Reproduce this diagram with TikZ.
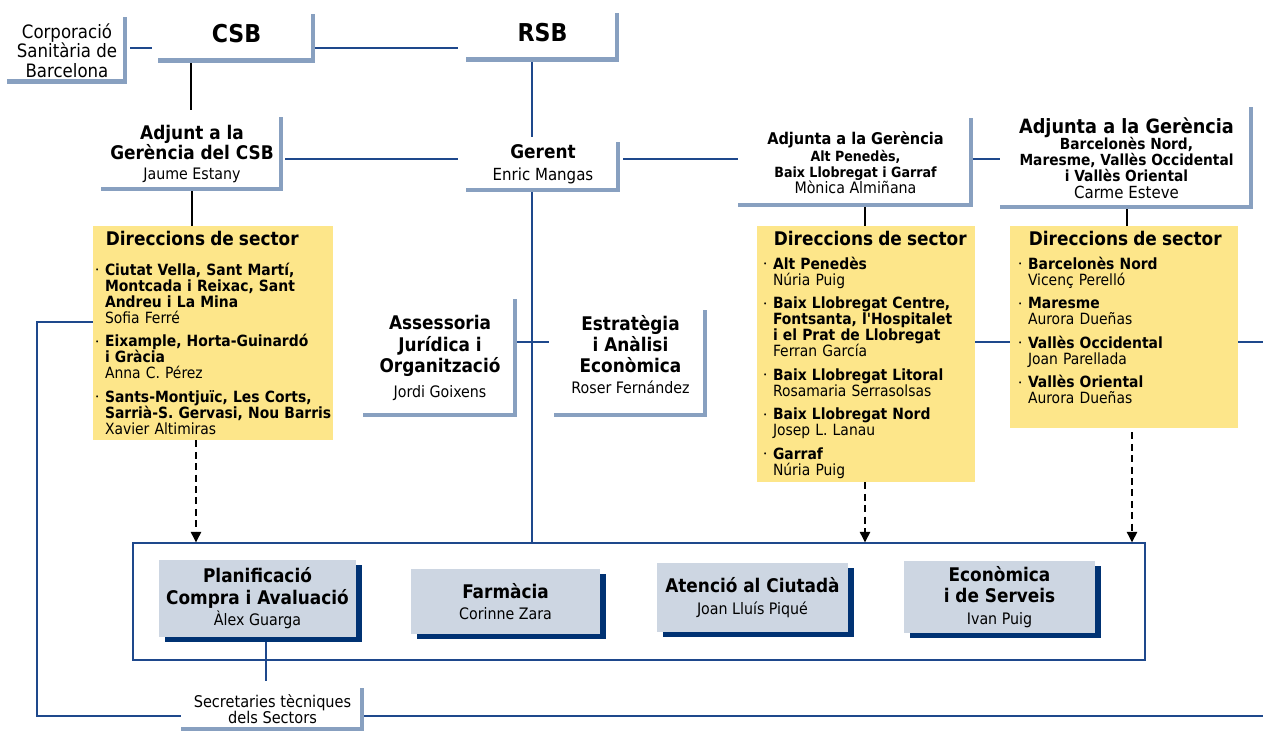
\documentclass[tikz,border=0pt]{standalone}
\usepackage{fontspec}
\setmainfont{DejaVu Sans Condensed}
\usepackage{xcolor}
\usetikzlibrary{backgrounds,shadows,arrows.meta}

\definecolor{barblue}{RGB}{136,160,192}
\definecolor{lineblue}{RGB}{30,72,140}
\definecolor{secyellow}{RGB}{253,230,138}
\definecolor{unitgray}{RGB}{205,214,226}
\definecolor{unitnavy}{RGB}{0,50,115}

\newcommand{\bighead}{\fontsize{14}{16}\selectfont\bfseries}
\newcommand{\boxhead}{\fontsize{10.7}{11.5}\selectfont\bfseries}
\newcommand{\smallhead}{\fontsize{8}{9}\selectfont\bfseries}
\newcommand{\persona}[1]{{\fontsize{9}{10}\selectfont\mdseries #1}}
\newcommand{\sechead}[1]{\noindent\hspace*{6pt}{\fontsize{10.7}{12}\selectfont\bfseries #1}\par}
\newcommand{\sitem}[2]{\vspace{4.3pt}\noindent\hangindent=5.5pt\hangafter=1\makebox[5.5pt][l]{\raisebox{1.5pt}{\fontsize{4}{4}\selectfont\textbullet}}{\bfseries #1}\newline #2\par}

\tikzset{lbox/.style 2 args={fill=white,inner sep=0pt,align=center,
            minimum width=#1*0.02cm,minimum height=#2*0.02cm,
            path picture={\fill[barblue] ([xshift=-0.09cm]path picture bounding box.north east) rectangle (path picture bounding box.south east);
                          \fill[barblue] ([yshift=0.09cm]path picture bounding box.south west) rectangle (path picture bounding box.south east);}},
         secbox/.style 2 args={fill=secyellow,inner sep=0pt,minimum width=#1*0.02cm,minimum height=#2*0.02cm},
         sectext/.style={anchor=north west,inner sep=0pt,align=left,font=\fontsize{8.8}{9.1}\selectfont},
         unit/.style 2 args={fill=unitgray,inner sep=0pt,align=center,font=\fontsize{10.7}{12.2}\selectfont\bfseries,
            minimum width=#1*0.02cm,minimum height=#2*0.02cm,
            drop shadow={shadow xshift=0.12cm,shadow yshift=-0.1cm,fill=unitnavy,opacity=1}},
         conn/.style={draw=lineblue,line width=0.8pt},
         vconn/.style={draw=black,line width=0.8pt},
         dasharrow/.style={draw=black,line width=0.7pt,dash pattern=on 4pt off 2.5pt,-{Triangle[length=6pt,width=6pt]}},
            }

\begin{document}
\begin{tikzpicture}[x=0.02cm,y=-0.02cm]
				\useasboundingbox (0,0) rectangle (1263,733);
				% top level
				\node[lbox={120}{67},font=\fontsize{10.5}{11}\selectfont] (corp) at (67,50.5) {Corporació\\Sanitària de\\Barcelona};
				\node[lbox={157}{49},font=\bighead,text depth=5.7pt] (csb) at (236.5,38.5) {CSB};
				\node[lbox={153}{49},font=\bighead,text depth=5.7pt] (rsb) at (542.5,37.5) {RSB};
				
				\node[lbox={182}{74},font=\boxhead] (adjcsb) at (192,154) {Adjunt a la\\Gerència del CSB\\\persona{Jaume Estany}};
				\node[lbox={154}{50},font=\boxhead] (gerent) at (543,167) {Gerent\\[1pt]{\fontsize{9.5}{11}\selectfont\mdseries Enric Mangas}\\[-6pt]\mbox{}};
				\node[lbox={235}{89},font=\boxhead] (adj1) at (855.5,162.5) {{\fontsize{9.2}{11}\selectfont Adjunta a la Gerència}\\[-1.5pt]{\smallhead Alt Penedès,}\\[-2.5pt]{\smallhead Baix Llobregat i Garraf}\\[-2.5pt]\persona{Mònica Almiñana}};
				\node[lbox={253}{102},font=\boxhead] (adj2) at (1126.5,158) {{\fontsize{11.2}{12}\selectfont Adjunta a la Gerència}\\[-2pt]{\fontsize{8.7}{9}\selectfont Barcelonès Nord,}\\[-2.5pt]{\fontsize{8.7}{9}\selectfont Maresme, Vallès Occidental}\\[-2.5pt]{\fontsize{8.7}{9}\selectfont i Vallès Oriental}\\[-2pt]{\fontsize{9.5}{10}\selectfont\mdseries Carme Esteve}};
				
				\node[lbox={154}{118},font=\boxhead] (assess) at (440,358) {Assessoria\\[0.7pt]Jurídica i\\[0.5pt]Organització\\[3pt]\persona{Jordi Goixens}};
				\node[lbox={153}{107},font=\boxhead] (estrat) at (630.5,363.5) {Estratègia\\[0.5pt]i Anàlisi\\[0.5pt]Econòmica\\[0.5pt]\persona{Roser Fernández}\\[-1pt]\mbox{}};
				
				% sector boxes
				\node[secbox={240}{214}] (ysec1) at (213,333) {};
				\node[secbox={218}{256}] (ysec2) at (866,354) {};
				\node[secbox={228}{202}] (ysec3) at (1124,327) {};
				
				\node[sectext,text width=4.8cm] (ysec1txt) at (95,231) {\sechead{Direccions de sector}\vspace{3.4pt}
					\sitem{Ciutat Vella, Sant Martí,\newline Montcada i Reixac, Sant\newline Andreu i La Mina}{Sofia Ferré}
					\sitem{Eixample, Horta-Guinardó\newline i Gràcia}{Anna C. Pérez}
					\sitem{Sants-Montjuïc, Les Corts,\newline Sarrià-S. Gervasi, Nou Barris}{Xavier Altimiras}};
				\node[sectext,text width=4.4cm] (ysec2txt) at (763,231) {\sechead{Direccions de sector}
					\sitem{Alt Penedès}{Núria Puig}
					\sitem{Baix Llobregat Centre,\newline Fontsanta, l\textquotesingle Hospitalet\newline i el Prat de Llobregat}{Ferran García}
					\sitem{Baix Llobregat Litoral}{Rosamaria Serrasolsas}
					\sitem{Baix Llobregat Nord}{Josep L. Lanau}
					\sitem{Garraf}{Núria Puig}};
				\node[sectext,text width=4.4cm] (ysec3txt) at (1018,231) {\sechead{Direccions de sector}
					\sitem{Barcelonès Nord}{Vicenç Perelló}
					\sitem{Maresme}{Aurora Dueñas}
					\sitem{Vallès Occidental}{Joan Parellada}
					\sitem{Vallès Oriental}{Aurora Dueñas}};
				
				% bottom frame and units
				\node[draw=lineblue,line width=0.8pt,inner sep=0pt,minimum width=1012*0.02cm,minimum height=117*0.02cm] (frame) at (639,601.5) {};
				\node[unit={197}{77}] (plan) at (257.5,598.5) {Planificació\\Compra i Avaluació\\\persona{Àlex Guarga}};
				\node[unit={189}{65}] (farm) at (505.5,601.5) {Farmàcia\\\persona{Corinne Zara}};
				\node[unit={191}{69}] (aten) at (752.5,597.5) {Atenció al Ciutadà\\\persona{Joan Lluís Piqué}};
				\node[unit={191}{72}] (econ) at (999.5,597) {Econòmica\\i de Serveis\\\persona{Ivan Puig}};
				
				\node[lbox={183}{43},font=\fontsize{9.2}{9.2}\selectfont] (secret) at (272.5,709.5) {Secretaries tècniques\\dels Sectors};
				
				\coordinate (lcorner1) at (37,322);
				\coordinate (lcorner2) at (37,716);
				\coordinate (redge1) at (1263,342);
				\coordinate (redge2) at (1263,716);
				
				\begin{scope}[on background layer]
				\draw[conn,shorten <=0.06cm,shorten >=0.12cm] (corp.east |- 0,48) -- (csb.west |- 0,48);
				\draw[conn,shorten >=0.16cm] (csb.east |- 0,48) -- (rsb.west |- 0,48);
				\draw[vconn,shorten >=0.14cm] (csb.south -| 191,0) -- (adjcsb.north -| 191,0);
				\draw[conn,shorten >=0.1cm] (rsb.south -| 532,0) -- (gerent.north -| 532,0);
				\draw[conn,shorten <=0.04cm,shorten >=0.16cm] (adjcsb.east |- 0,159) -- (gerent.west |- 0,159);
				\draw[conn,shorten <=0.06cm] (gerent.east |- 0,159) -- (adj2.west |- 0,159);
				\draw[vconn] (adjcsb.south -| 192,0) -- (ysec1.north -| 192,0);
				\draw[vconn] (adj1.south -| 865,0) -- (ysec2.north -| 865,0);
				\draw[vconn] (adj2.south -| 1127,0) -- (ysec3.north -| 1127,0);
				\draw[conn] (gerent.south -| 532,0) -- (frame.north -| 532,0);
				\draw[conn,shorten >=0.1cm] (assess.east |- 0,342) -- (estrat.west |- 0,342);
				\draw[conn] (ysec2.east |- redge1) -- (redge1);
				\draw[conn] (ysec1.west |- lcorner1) -- (lcorner1) -- (lcorner2) -- (secret.west |- lcorner2);
				\draw[conn] (secret.east |- redge2) -- (redge2);
				\draw[conn,shorten >=0.14cm] (plan.south -| 266,0) -- (secret.north -| 266,0);
				\end{scope}
				
				\draw[dasharrow] (ysec1.south -| 196,0) -- (frame.north -| 196,0);
				\draw[dasharrow] (ysec2.south -| 865,0) -- (frame.north -| 865,0);
				\draw[dasharrow,shorten <=0.08cm] (ysec3.south -| 1132,0) -- (frame.north -| 1132,0);
			\end{tikzpicture}
\end{document}
